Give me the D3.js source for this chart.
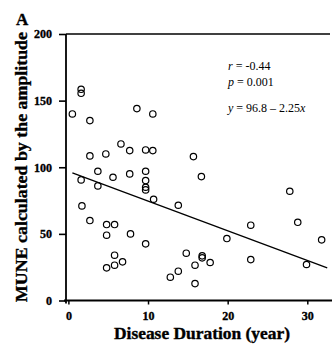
<!DOCTYPE html>
<html>
<head>
<meta charset="utf-8">
<script src="https://cdn.jsdelivr.net/npm/d3@7"></script>
<style>
  html, body { margin: 0; padding: 0; background: #fff; }
  svg { display: block; }
</style>
</head>
<body>
<script>
// disease duration (year) and MUNE
let duration = [
  0.5, 1.6, 1.6, 2.7, 8.6, 10.6, 6.6, 7.7, 9.7, 10.6,
  2.7, 4.7, 15.7, 3.7, 1.6, 5.6, 7.7, 9.7, 9.7, 9.7,
  9.7, 3.7, 10.7, 16.7, 13.8, 1.7, 2.7, 4.8, 5.8, 4.8,
  7.8, 9.7, 5.8, 6.8, 5.8, 4.8, 27.8, 28.8, 22.9, 19.9,
  31.8, 22.9, 29.9, 14.8, 12.8, 13.8, 15.9, 16.8, 16.8, 17.8,
  15.9
]
let mune = [
  140, 158.5, 155.5, 135, 144, 140, 117.5, 112.5, 113, 112.5,
  108.5, 110, 108, 97, 90.5, 92.5, 95, 97, 90, 85,
  83, 86, 76, 93, 71.5, 71, 60, 57, 57, 49,
  50, 42.5, 34, 29, 26.5, 24.5, 82, 58.7, 56.5, 46.5,
  45.5, 30.7, 27, 35.5, 17.5, 22, 26.5, 33.5, 32, 28.5,
  12.7
]
// end points of the fitted line y = 96.8 - 2.25x
let fitX = [0.5, 32.5]
let fitY = [95.7, 24.5]

let xTicks = [0, 10, 20, 30]
let yTicks = [0, 50, 100, 150, 200]
let stats = ['r = -0.44', 'p = 0.001', 'y = 96.8 \u2013 2.25x']

let width = 332
let height = 349
let serif = '"Liberation Serif", "Times New Roman", serif'

let x = d3.scaleLinear().domain([-0.3, 33.1]).range([66, 332])
let y = d3.scaleLinear().domain([0, 200]).range([300.5, 34])

const svg = d3.select('body').append('svg')
    .attr('width', width)
    .attr('height', height)
    .style('font-family', serif)

// heavy scanned-look labels
let heavy = sel => sel
    .style('font-family', serif)
    .style('font-weight', 'bold')
    .attr('stroke', '#000')
    .attr('stroke-width', 0.35)

// top frame line
svg.append('line')
    .attr('x1', x.range()[0]).attr('x2', 330)
    .attr('y1', y(200)).attr('y2', y(200))
    .attr('stroke', '#000').attr('stroke-width', 1.6)

let yAxis = g => g
    .attr('transform', `translate(${x.range()[0]},0)`)
    .call(d3.axisLeft(y).tickValues(yTicks).tickSize(7).tickPadding(7).tickSizeOuter(0))
    .attr('font-family', null)
    .call(g => g.select('.domain').attr('stroke-width', 1.8).attr('d', `M0,${y(200)}V${y(0) + 3}`))
    .call(g => g.selectAll('.tick line').attr('stroke-width', 1.6))
    .call(g => g.selectAll('.tick text').call(heavy).style('font-size', '12px'))

let xAxis = g => g
    .attr('transform', `translate(0,${y(0)})`)
    .call(d3.axisBottom(x).tickValues(xTicks).tickSize(4).tickPadding(7).tickSizeOuter(0))
    .attr('font-family', null)
    .call(g => g.select('.domain').attr('stroke-width', 1.8).attr('d', `M${x.range()[0] - 2},0H${x.range()[1]}`))
    .call(g => g.selectAll('.tick line').attr('stroke-width', 1.5))
    .call(g => g.selectAll('.tick text').call(heavy).style('font-size', '12px'))

svg.append('g').call(yAxis)
svg.append('g').call(xAxis)

// fitted line
svg.append('line')
    .attr('x1', x(fitX[0])).attr('y1', y(fitY[0]))
    .attr('x2', x(fitX[1])).attr('y2', y(fitY[1]))
    .attr('stroke', '#000').attr('stroke-width', 1.3)

let points = duration.map((d, i) => ({ dur: d, val: mune[i] }))

svg.append('g')
  .selectAll('circle')
  .data(points)
  .join('circle')
    .attr('cx', d => x(d.dur))
    .attr('cy', d => y(d.val))
    .attr('r', 3.2)
    .attr('fill', 'none')
    .attr('stroke', '#000')
    .attr('stroke-width', 1.2)

// statistics box
let statY = [70, 86, 112]
svg.append('g')
  .selectAll('text')
  .data(stats)
  .join('text')
    .attr('x', 228)
    .attr('y', (d, i) => statY[i])
    .style('font-family', serif)
    .style('font-size', '12px')
    .html(d => {
      let [lhs, rhs] = d.split(' = ')
      rhs = rhs.replace(/x$/, '<tspan font-style="italic">x</tspan>')
      return `<tspan font-style="italic">${lhs}</tspan> = ${rhs}`
    })

// titles
svg.append('text')
    .text('Disease Duration (year)')
    .attr('x', 202)
    .attr('y', 339)
    .attr('text-anchor', 'middle')
    .attr('textLength', 176)
    .attr('lengthAdjust', 'spacingAndGlyphs')
    .call(heavy)
    .style('font-size', '16px')

svg.append('text')
    .text('MUNE calculated by the amplitude')
    .attr('transform', 'rotate(-90)')
    .attr('x', -167)
    .attr('y', 27)
    .attr('text-anchor', 'middle')
    .attr('textLength', 270)
    .attr('lengthAdjust', 'spacingAndGlyphs')
    .call(heavy)
    .style('font-size', '16.5px')

svg.append('text')
    .text('A')
    .attr('x', 16)
    .attr('y', 25)
    .call(heavy)
    .style('font-size', '17px')
</script>
</body>
</html>
